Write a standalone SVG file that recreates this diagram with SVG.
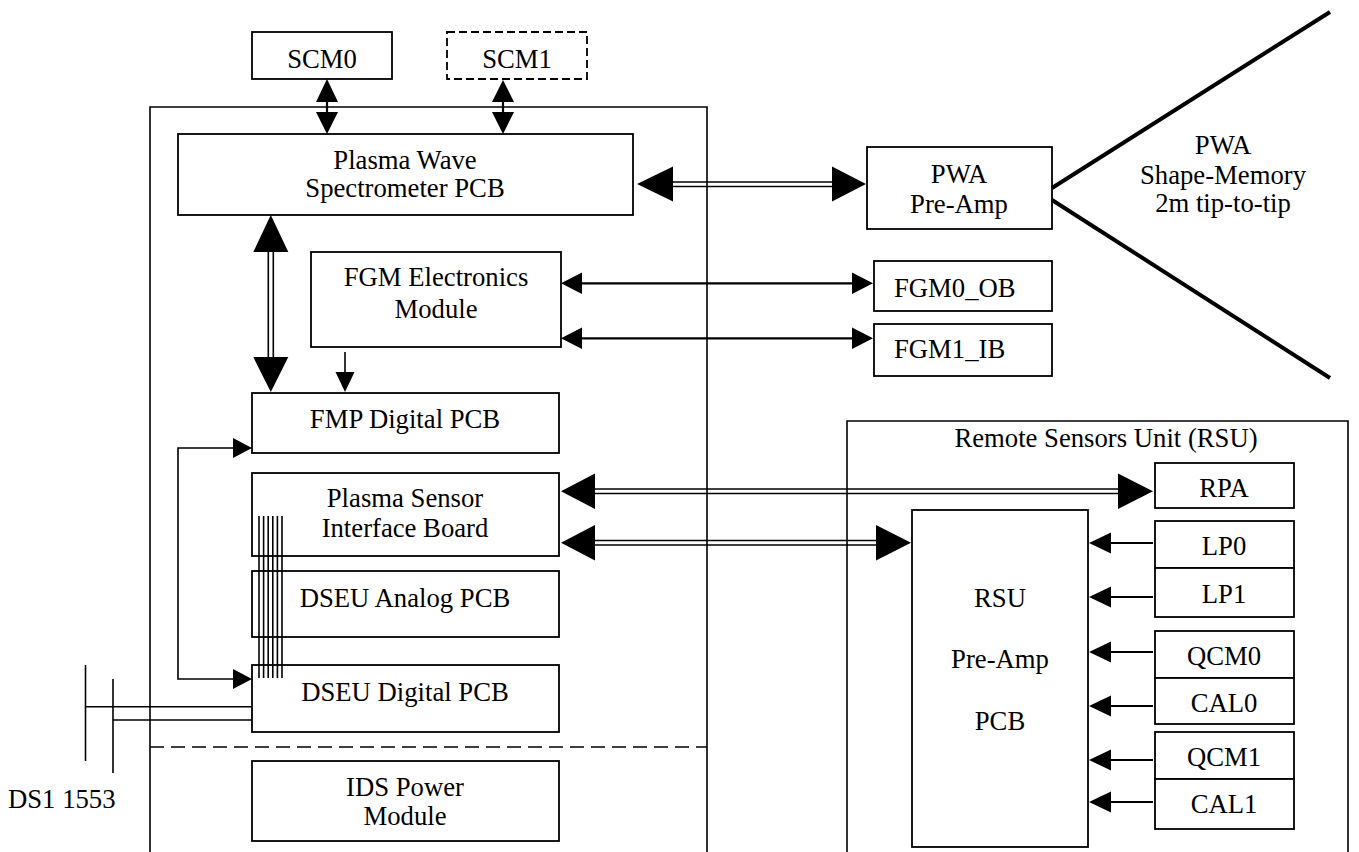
<svg xmlns="http://www.w3.org/2000/svg" width="1359" height="852" viewBox="0 0 1359 852">
  <style>
    .box { fill: #fff; stroke: #000; stroke-width: 1.8; }
    .frame { fill: none; stroke: #000; stroke-width: 1.6; }
    .dash { fill: none; stroke: #000; stroke-width: 1.8; stroke-dasharray: 8 4; }
    .ln { fill: none; stroke: #000; stroke-width: 1.6; }
    .ln2 { fill: none; stroke: #000; stroke-width: 2.2; }
    .ant { fill: none; stroke: #000; stroke-width: 4; }
    .head { fill: #000; stroke: none; }
    text { font-family: 'Liberation Serif', 'Times New Roman', 'DejaVu Serif', serif; font-size: 26.7px; fill: #000; }
    .c { text-anchor: middle; }
  </style>

  <!-- enclosures -->
  <g id="ids-frame">
    <path class="frame" d="M150,852 V107 H707 V852"/>
    <line x1="150" y1="747" x2="707" y2="747" class="ln" stroke-dasharray="14 7"/>
  </g>
  <g id="rsu-frame">
    <path class="frame" d="M847,852 V421 H1348 V852"/>
    <text class="c" x="1106" y="447">Remote Sensors Unit (RSU)</text>
  </g>

  <!-- nodes -->
  <g id="scm0">
    <rect class="box" x="252" y="32" width="140" height="47"/>
    <text class="c" x="322" y="68">SCM0</text>
  </g>
  <g id="scm1">
    <rect class="dash" x="447" y="32" width="140" height="47"/>
    <text class="c" x="517" y="68">SCM1</text>
  </g>
  <g id="pws">
    <rect class="box" x="178" y="134" width="455" height="81"/>
    <text class="c" x="405" y="169">Plasma Wave</text>
    <text class="c" x="405" y="197">Spectrometer PCB</text>
  </g>
  <g id="fgm-electronics">
    <rect class="box" x="311" y="252" width="250" height="95"/>
    <text class="c" x="436" y="286">FGM Electronics</text>
    <text class="c" x="436" y="318">Module</text>
  </g>
  <g id="fmp-digital">
    <rect class="box" x="252" y="393" width="307" height="60"/>
    <text class="c" x="405" y="428">FMP Digital PCB</text>
  </g>
  <g id="psib">
    <rect class="box" x="252" y="473" width="307" height="83"/>
    <text class="c" x="405" y="507">Plasma Sensor</text>
    <text class="c" x="405" y="537">Interface Board</text>
  </g>
  <g id="dseu-analog">
    <rect class="box" x="252" y="571" width="307" height="66"/>
    <text class="c" x="405" y="607">DSEU Analog PCB</text>
  </g>
  <g id="dseu-digital">
    <rect class="box" x="252" y="665" width="307" height="67"/>
    <text class="c" x="405" y="701">DSEU Digital PCB</text>
  </g>
  <g id="ids-power">
    <rect class="box" x="252" y="761" width="307" height="80"/>
    <text class="c" x="405" y="796">IDS Power</text>
    <text class="c" x="405" y="825">Module</text>
  </g>
  <g id="pwa-preamp">
    <rect class="box" x="867" y="147" width="185" height="82"/>
    <text class="c" x="959" y="183">PWA</text>
    <text class="c" x="959" y="213">Pre-Amp</text>
  </g>
  <g id="pwa-antenna">
    <line class="ant" x1="1052" y1="188" x2="1330" y2="12"/>
    <line class="ant" x1="1052" y1="200" x2="1330" y2="378"/>
    <text class="c" x="1223" y="154">PWA</text>
    <text class="c" x="1223" y="184">Shape-Memory</text>
    <text class="c" x="1223" y="212">2m tip-to-tip</text>
  </g>
  <g id="fgm0-ob">
    <rect class="box" x="874" y="261" width="178" height="50"/>
    <text x="894" y="297">FGM0_OB</text>
  </g>
  <g id="fgm1-ib">
    <rect class="box" x="874" y="324" width="178" height="52"/>
    <text x="894" y="358">FGM1_IB</text>
  </g>
  <g id="rpa">
    <rect class="box" x="1155" y="463" width="139" height="45"/>
    <text class="c" x="1224" y="497">RPA</text>
  </g>
  <g id="lp">
    <rect class="box" x="1155" y="521" width="139" height="47"/>
    <rect class="box" x="1155" y="568" width="139" height="49"/>
    <text class="c" x="1224" y="555">LP0</text>
    <text class="c" x="1224" y="603">LP1</text>
  </g>
  <g id="qcm0-cal0">
    <rect class="box" x="1155" y="631" width="139" height="47"/>
    <rect class="box" x="1155" y="678" width="139" height="46"/>
    <text class="c" x="1224" y="665">QCM0</text>
    <text class="c" x="1224" y="712">CAL0</text>
  </g>
  <g id="qcm1-cal1">
    <rect class="box" x="1155" y="732" width="139" height="47"/>
    <rect class="box" x="1155" y="779" width="139" height="50"/>
    <text class="c" x="1224" y="766">QCM1</text>
    <text class="c" x="1224" y="813">CAL1</text>
  </g>
  <g id="rsu-preamp">
    <rect class="box" x="912" y="510" width="176" height="337"/>
    <text class="c" x="1000" y="607">RSU</text>
    <text class="c" x="1000" y="668">Pre-Amp</text>
    <text class="c" x="1000" y="730">PCB</text>
  </g>
  <g id="ds1-1553">
    <line class="ln" x1="85.5" y1="665" x2="85.5" y2="761"/>
    <line class="ln" x1="113" y1="679" x2="113" y2="773"/>
    <text x="8" y="808">DS1 1553</text>
  </g>

  <!-- connectors -->
  <g id="connectors">
    <!-- SCM links -->
    <line class="ln2" x1="327" y1="100" x2="327" y2="114"/>
    <polygon class="head" points="327,79 316,102 338,102"/>
    <polygon class="head" points="327,134 316,112 338,112"/>
    <line class="ln2" x1="503" y1="100" x2="503" y2="114"/>
    <polygon class="head" points="503,80 492,102 514,102"/>
    <polygon class="head" points="503,134 492,112 514,112"/>

    <!-- PWS to PWA pre-amp (double line) -->
    <line class="ln" x1="670" y1="182" x2="835" y2="182"/>
    <line class="ln" x1="670" y1="186.5" x2="835" y2="186.5"/>
    <polygon class="head" points="637,184 673,166.5 673,201.5"/>
    <polygon class="head" points="866,184 832,166.5 832,201.5"/>

    <!-- PWS to FMP (double line) -->
    <line class="ln" x1="268.3" y1="248" x2="268.3" y2="360"/>
    <line class="ln" x1="273.3" y1="248" x2="273.3" y2="360"/>
    <polygon class="head" points="270.8,215 253.3,252 288.3,252"/>
    <polygon class="head" points="270.8,392 253.3,357 288.3,357"/>

    <!-- FGM electronics to FMP -->
    <line class="ln" x1="345" y1="352" x2="345" y2="375"/>
    <polygon class="head" points="345,392 335.5,372 354.5,372"/>

    <!-- FGM electronics to sensors -->
    <line class="ln2" x1="578" y1="283.3" x2="856" y2="283.3"/>
    <polygon class="head" points="561,283.3 582,272.5 582,294"/>
    <polygon class="head" points="873,283.3 852,272.5 852,294"/>
    <line class="ln2" x1="578" y1="338.3" x2="856" y2="338.3"/>
    <polygon class="head" points="561,338.3 582,327.5 582,349"/>
    <polygon class="head" points="873,338.3 852,327.5 852,349"/>

    <!-- FMP / DSEU digital loop -->
    <path class="ln" d="M236,448 H178 V679 H236"/>
    <polygon class="head" points="252,448 233,438 233,458"/>
    <polygon class="head" points="252,679 233,669 233,689"/>

    <!-- ribbon bundle -->
    <g class="ln">
      <line x1="259" y1="516" x2="259" y2="678"/>
      <line x1="263.6" y1="516" x2="263.6" y2="678"/>
      <line x1="268.2" y1="516" x2="268.2" y2="678"/>
      <line x1="272.8" y1="516" x2="272.8" y2="678"/>
      <line x1="277.4" y1="516" x2="277.4" y2="678"/>
      <line x1="282" y1="516" x2="282" y2="678"/>
    </g>

    <!-- PSIB to RPA (double line) -->
    <line class="ln" x1="592" y1="489" x2="1121" y2="489"/>
    <line class="ln" x1="592" y1="493.5" x2="1121" y2="493.5"/>
    <polygon class="head" points="561,491.2 595,473.5 595,509"/>
    <polygon class="head" points="1153,491.2 1118,473.5 1118,509"/>

    <!-- PSIB to RSU pre-amp (double line) -->
    <line class="ln" x1="592" y1="540.5" x2="879" y2="540.5"/>
    <line class="ln" x1="592" y1="545" x2="879" y2="545"/>
    <polygon class="head" points="561,542.7 595,525 595,560.5"/>
    <polygon class="head" points="911,542.7 876,525 876,560.5"/>

    <!-- 1553 bus stubs -->
    <line class="ln" x1="85.5" y1="706.7" x2="252" y2="706.7"/>
    <line class="ln" x1="113" y1="720" x2="252" y2="720"/>

    <!-- sensor inputs to RSU pre-amp -->
    <g>
      <line class="ln2" x1="1108" y1="543" x2="1153" y2="543"/>
      <polygon class="head" points="1089,543 1111,532.5 1111,553.5"/>
      <line class="ln2" x1="1108" y1="597" x2="1153" y2="597"/>
      <polygon class="head" points="1089,597 1111,586.5 1111,607.5"/>
      <line class="ln2" x1="1108" y1="652" x2="1153" y2="652"/>
      <polygon class="head" points="1089,652 1111,641.5 1111,662.5"/>
      <line class="ln2" x1="1108" y1="706" x2="1153" y2="706"/>
      <polygon class="head" points="1089,706 1111,695.5 1111,716.5"/>
      <line class="ln2" x1="1108" y1="760" x2="1153" y2="760"/>
      <polygon class="head" points="1089,760 1111,749.5 1111,770.5"/>
      <line class="ln2" x1="1108" y1="802" x2="1153" y2="802"/>
      <polygon class="head" points="1089,802 1111,791.5 1111,812.5"/>
    </g>
  </g>
</svg>
